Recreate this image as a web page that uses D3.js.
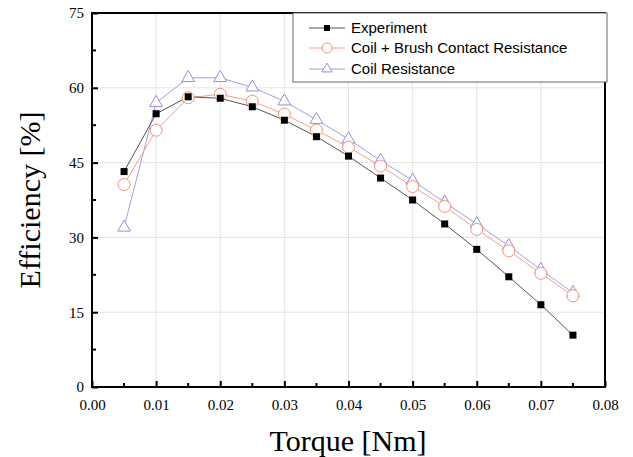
<!DOCTYPE html>
<html>
<head>
  <meta charset="UTF-8">
  <script src="https://d3js.org/d3.v7.min.js"></script>
  <style>
    body { margin: 0; background: white; }
    .tick text { font-family: "Liberation Serif", "Times New Roman", serif; font-size: 15px; fill: #000; }
  </style>
</head>
<body>
<div id="chart"></div>
<script>
  // data
  const torque = [0.005, 0.01, 0.015, 0.02, 0.025, 0.03, 0.035, 0.04, 0.045, 0.05, 0.055, 0.06, 0.065, 0.07, 0.075];
  const experiment = [43.2, 54.8, 58.2, 57.9, 56.2, 53.5, 50.2, 46.3, 41.9, 37.5, 32.7, 27.6, 22.1, 16.5, 10.4];
  const coilBrush = [40.6, 51.5, 58.0, 58.7, 57.3, 54.7, 51.5, 48.1, 44.3, 40.2, 36.2, 31.6, 27.3, 22.8, 18.3];
  const coilOnly = [32.0, 57.0, 62.0, 62.0, 60.1, 57.3, 53.6, 49.7, 45.4, 41.4, 37.0, 32.7, 28.3, 23.5, 18.9];
  const xTicks = [0, 0.01, 0.02, 0.03, 0.04, 0.05, 0.06, 0.07, 0.08];
  const yTicks = [0, 15, 30, 45, 60, 75];
  const seriesNames = ["Experiment", "Coil + Brush Contact Resistance", "Coil Resistance"];

  const W = 633, H = 457;
  const margin = {top: 13, right: 28, bottom: 70, left: 92};
  const width = W - margin.left - margin.right,
        height = H - margin.top - margin.bottom;

  const svg = d3.select("#chart").append("svg")
    .attr("width", W).attr("height", H);
  const g = svg.append("g").attr("transform", `translate(${margin.left},${margin.top})`);

  const x = d3.scaleLinear().domain([0, 0.08]).range([0, width]);
  const y = d3.scaleLinear().domain([0, 75]).range([height, 0]);

  // grid
  g.append("g").selectAll("line").data(xTicks.slice(1, -1)).enter().append("line")
    .attr("x1", d => x(d)).attr("x2", d => x(d)).attr("y1", 0).attr("y2", height)
    .attr("stroke", "#e4e4e4").attr("stroke-width", 1);
  g.append("g").selectAll("line").data(yTicks.slice(1, -1)).enter().append("line")
    .attr("x1", 0).attr("x2", width).attr("y1", d => y(d)).attr("y2", d => y(d))
    .attr("stroke", "#e4e4e4").attr("stroke-width", 1);

  // minor ticks (inside)
  const xMinor = d3.range(0.005, 0.08, 0.01);
  const yMinor = d3.range(7.5, 75, 15);

  const xAxis = g.append("g").attr("transform", `translate(0,${height})`)
    .call(d3.axisBottom(x).tickValues(xTicks).tickFormat(d3.format(".2f")).tickSizeInner(-6).tickSizeOuter(0).tickPadding(12));
  xAxis.select(".domain").remove();
  xAxis.selectAll(".tick line").attr("stroke-width", 2);

  const yAxis = g.append("g")
    .call(d3.axisLeft(y).tickValues(yTicks).tickSizeInner(-6).tickSizeOuter(0).tickPadding(8));
  yAxis.select(".domain").remove();
  yAxis.selectAll(".tick line").attr("stroke-width", 2);

  g.append("g").selectAll("line").data(xMinor).enter().append("line")
    .attr("x1", d => x(d)).attr("x2", d => x(d)).attr("y1", height).attr("y2", height - 4)
    .attr("stroke", "#000").attr("stroke-width", 2);
  g.append("g").selectAll("line").data(yMinor).enter().append("line")
    .attr("x1", 0).attr("x2", 4).attr("y1", d => y(d)).attr("y2", d => y(d))
    .attr("stroke", "#000").attr("stroke-width", 2);

  // frame
  g.append("rect").attr("x", 0).attr("y", 0).attr("width", width).attr("height", height)
    .attr("fill", "none").attr("stroke", "#000").attr("stroke-width", 2);

  const line = d3.line().x((d, i) => x(torque[i])).y(d => y(d));

  // series
  g.append("path").datum(coilOnly).attr("d", line)
    .attr("fill", "none").attr("stroke", "#a0a0e0").attr("stroke-width", 1);
  g.append("path").datum(coilBrush).attr("d", line)
    .attr("fill", "none").attr("stroke", "#f4a08c").attr("stroke-width", 1);
  g.append("path").datum(experiment).attr("d", line)
    .attr("fill", "none").attr("stroke", "#555").attr("stroke-width", 1);

  const tri = d3.symbol().type(d3.symbolTriangle).size(70);

  g.append("g").selectAll("path").data(coilOnly).enter().append("path")
    .attr("d", tri)
    .attr("transform", (d, i) => `translate(${x(torque[i])},${y(d)})`)
    .attr("fill", "white").attr("stroke", "#9090dd").attr("stroke-width", 1);
  g.append("g").selectAll("circle").data(coilBrush).enter().append("circle")
    .attr("cx", (d, i) => x(torque[i])).attr("cy", d => y(d)).attr("r", 6)
    .attr("fill", "white").attr("stroke", "#f4927a").attr("stroke-width", 1);
  g.append("g").selectAll("rect").data(experiment).enter().append("rect")
    .attr("x", (d, i) => x(torque[i]) - 3.5).attr("y", d => y(d) - 3.5)
    .attr("width", 7).attr("height", 7).attr("fill", "#000");

  // axis titles
  svg.append("text")
    .attr("x", 348).attr("y", 451)
    .attr("text-anchor", "middle")
    .style("font-family", "Liberation Serif, Times New Roman, serif").style("font-size", "30px")
    .text("Torque [Nm]");
  svg.append("text")
    .attr("transform", `translate(40,${margin.top + height / 2}) rotate(-90)`)
    .attr("text-anchor", "middle")
    .style("font-family", "Liberation Serif, Times New Roman, serif").style("font-size", "30px")
    .text("Efficiency [%]");

  // legend
  const lg = svg.append("g").attr("transform", "translate(293,13)");
  lg.append("rect").attr("width", 314).attr("height", 69)
    .attr("fill", "white").attr("stroke", "#666").attr("stroke-width", 1);
  const rowY = [15, 35, 56];
  const lineCol = ["#555", "#f4a08c", "#a0a0e0"];
  seriesNames.forEach((name, i) => {
    lg.append("line").attr("x1", 16).attr("x2", 52).attr("y1", rowY[i]).attr("y2", rowY[i])
      .attr("stroke", lineCol[i]).attr("stroke-width", 1);
    if (i === 0) {
      lg.append("rect").attr("x", 31).attr("y", rowY[i] - 3).attr("width", 6).attr("height", 6).attr("fill", "#000");
    } else if (i === 1) {
      lg.append("circle").attr("cx", 34).attr("cy", rowY[i]).attr("r", 5)
        .attr("fill", "white").attr("stroke", "#f4927a");
    } else {
      lg.append("path").attr("d", d3.symbol().type(d3.symbolTriangle).size(45))
        .attr("transform", `translate(34,${rowY[i]})`)
        .attr("fill", "white").attr("stroke", "#9090dd");
    }
    lg.append("text").attr("x", 58).attr("y", rowY[i] + 5)
      .style("font-family", "Liberation Sans, Arial, sans-serif").style("font-size", "15px")
      .text(name);
  });
</script>
</body>
</html>
